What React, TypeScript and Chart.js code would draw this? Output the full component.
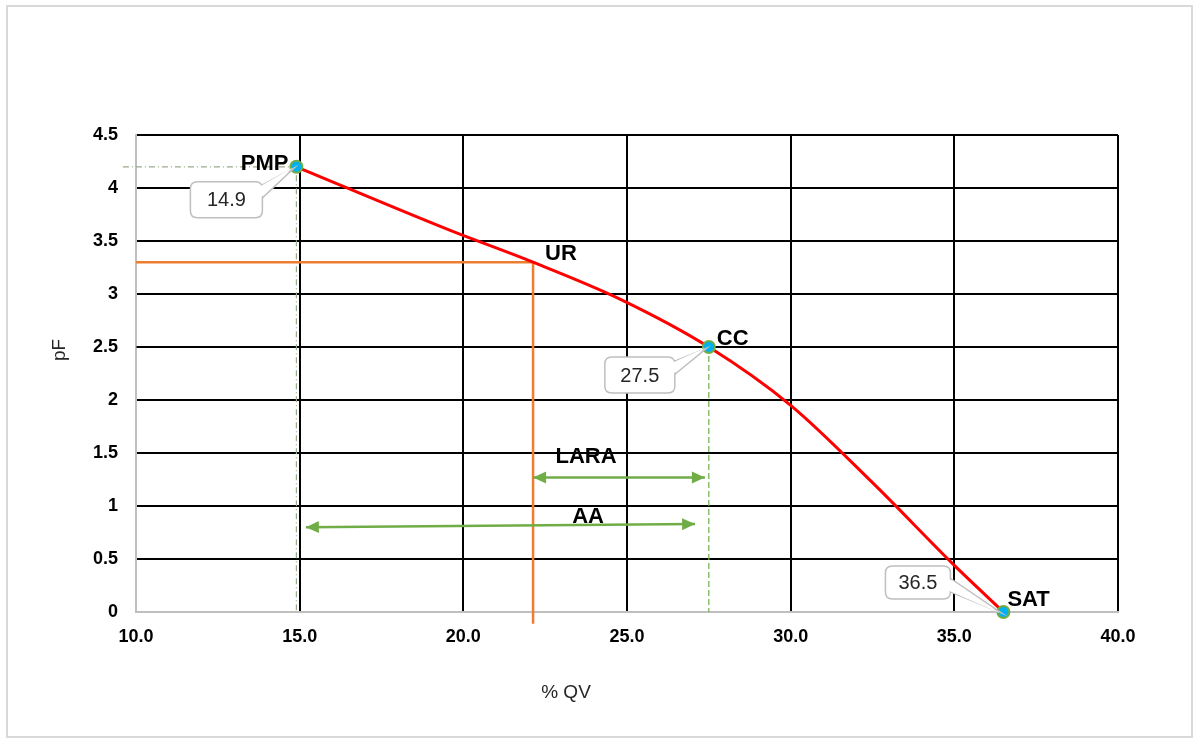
import React, { useEffect, useRef } from "react";
import { Chart, registerables } from "chart.js";

Chart.register(...registerables);

// ---- data ----
const curveX = [14.9, 19.6, 22.13, 24.8, 27.5, 30.0, 32.5, 35.0, 36.5];
const curveY = [4.2, 3.6, 3.3, 2.95, 2.5, 1.95, 1.22, 0.44, 0];
const keyNames = ["PMP", "CC", "SAT"];
const keyX = [14.9, 27.5, 36.5];
const keyY = [4.2, 2.5, 0];
const calloutText = ["14.9", "27.5", "36.5"];
const urX = 22.13;
const urY = 3.3;
const urBottom = -0.11;
const pmpGuideStartX = 9.6;
const laraX = [22.13, 27.38];
const laraY = [1.27, 1.27];
const aaX = [15.19, 27.08];
const aaY = [0.8, 0.83];
const textLabels = ["UR", "LARA", "AA"];
const textX = [22.13, 23.75, 23.81];
const textY = [3.3, 1.46, 0.9];
const xMin = 10, xMax = 40, xStep = 5;
const yMin = 0, yMax = 4.5, yStep = 0.5;
const xTitle = "% QV";
const yTitle = "pF";

const FONT = "'Liberation Sans', Arial, sans-serif";
const GREEN = "#70ad47";

function pts(xs: number[], ys: number[]) {
  return xs.map((v, i) => ({ x: v, y: ys[i] }));
}

function roundRect(ctx: CanvasRenderingContext2D, x: number, y: number, w: number, h: number, r: number) {
  ctx.beginPath();
  ctx.moveTo(x + r, y);
  ctx.lineTo(x + w - r, y);
  ctx.quadraticCurveTo(x + w, y, x + w, y + r);
  ctx.lineTo(x + w, y + h - r);
  ctx.quadraticCurveTo(x + w, y + h, x + w - r, y + h);
  ctx.lineTo(x + r, y + h);
  ctx.quadraticCurveTo(x, y + h, x, y + h - r);
  ctx.lineTo(x, y + r);
  ctx.quadraticCurveTo(x, y, x + r, y);
  ctx.closePath();
}

// pixel styles of callouts relative to their point: [dx, dy, w, h, wedgeTop, wedgeBottom]
const calloutStyle = [
  [-106, 15, 72, 36, 4, 18],
  [-104, 10, 70, 36, 5, 19],
  [-118, -46, 65, 33, 11, 25],
];
// label offsets relative to key points
const keyLabelStyle = [
  { dx: -8, dy: -3, align: "right" },
  { dx: 8, dy: -8, align: "left" },
  { dx: 4, dy: -12, align: "left" },
];

const annotPlugin = {
  id: "annot",
  beforeDraw(chart: any) {
    const { ctx } = chart;
    ctx.save();
    ctx.fillStyle = "#ffffff";
    ctx.fillRect(0, 0, chart.width, chart.height);
    ctx.strokeStyle = "#d9d9d9";
    ctx.lineWidth = 2;
    ctx.strokeRect(7, 6, 1185, 731);
    ctx.restore();
  },
  afterDatasetsDraw(chart: any) {
    const { ctx, scales } = chart;
    const x = scales.x, y = scales.y;
    ctx.save();

    // arrowheads
    const arrow = (x0: number, y0: number, x1: number, y1: number) => {
      const ang = Math.atan2(y1 - y0, x1 - x0);
      const L = 13, W = 6;
      ctx.beginPath();
      ctx.moveTo(x1, y1);
      ctx.lineTo(x1 - L * Math.cos(ang) + W * Math.sin(ang), y1 - L * Math.sin(ang) - W * Math.cos(ang));
      ctx.lineTo(x1 - L * Math.cos(ang) - W * Math.sin(ang), y1 - L * Math.sin(ang) + W * Math.cos(ang));
      ctx.closePath();
      ctx.fillStyle = GREEN;
      ctx.fill();
    };
    [[laraX, laraY], [aaX, aaY]].forEach(([xs, ys]) => {
      const ax = x.getPixelForValue(xs[0]), ay = y.getPixelForValue(ys[0]);
      const bx = x.getPixelForValue(xs[1]), by = y.getPixelForValue(ys[1]);
      arrow(bx, by, ax, ay);
      arrow(ax, ay, bx, by);
    });

    // callouts
    keyX.forEach((kx, i) => {
      const px = x.getPixelForValue(kx), py = y.getPixelForValue(keyY[i]);
      const [dx, dy, w, h, wt, wb] = calloutStyle[i];
      const bx = px + dx, by = py + dy;
      ctx.lineWidth = 1.5;
      ctx.strokeStyle = "#bfbfbf";
      ctx.fillStyle = "#ffffff";
      ctx.beginPath();
      ctx.moveTo(bx + w - 2, by + wt);
      ctx.lineTo(px - 2, py + 1);
      ctx.lineTo(bx + w - 2, by + wb);
      ctx.closePath();
      ctx.fill();
      ctx.stroke();
      roundRect(ctx, bx, by, w, h, 7);
      ctx.fill();
      ctx.stroke();
      ctx.beginPath();
      ctx.moveTo(bx + w - 3, by + wt + 1);
      ctx.lineTo(px - 4, py + 1);
      ctx.lineTo(bx + w - 3, by + wb - 1);
      ctx.closePath();
      ctx.fill();
      ctx.fillStyle = "#262626";
      ctx.font = `20px ${FONT}`;
      ctx.textAlign = "center";
      ctx.textBaseline = "middle";
      ctx.fillText(calloutText[i], bx + w / 2, by + h / 2 + 1);
    });

    // key labels
    ctx.fillStyle = "#000000";
    ctx.font = `bold 22px ${FONT}`;
    ctx.textBaseline = "middle";
    keyNames.forEach((n, i) => {
      const px = x.getPixelForValue(keyX[i]), py = y.getPixelForValue(keyY[i]);
      const s = keyLabelStyle[i];
      ctx.textAlign = s.align as CanvasTextAlign;
      ctx.fillText(n, px + s.dx, py + s.dy);
    });
    textLabels.forEach((t, i) => {
      const px = x.getPixelForValue(textX[i]), py = y.getPixelForValue(textY[i]);
      if (t === "UR") {
        ctx.textAlign = "left";
        ctx.fillText(t, px + 12, py - 8);
      } else {
        ctx.textAlign = "center";
        ctx.fillText(t, px, py);
      }
    });

    // axis titles
    ctx.font = `19px ${FONT}`;
    ctx.fillStyle = "#262626";
    ctx.textAlign = "center";
    ctx.textBaseline = "middle";
    ctx.fillText(xTitle, 566, 693);
    ctx.translate(60, 350);
    ctx.rotate(-Math.PI / 2);
    ctx.fillText(yTitle, 0, 0);
    ctx.restore();
  },
};

export default function App() {
  const ref = useRef<HTMLCanvasElement>(null);
  useEffect(() => {
    if (!ref.current) return;
    const chart = new Chart(ref.current, {
      type: "scatter",
      data: {
        datasets: [
          {
            data: pts(keyX, keyY),
            pointRadius: 6,
            pointBackgroundColor: "#00b0f0",
            pointBorderColor: GREEN,
            pointBorderWidth: 2,
            showLine: false,
            clip: false as any,
          },
          {
            data: pts(curveX, curveY),
            showLine: true,
            borderColor: "#ff0000",
            borderWidth: 3,
            pointRadius: 0,
            cubicInterpolationMode: "monotone",
            clip: false as any,
          },
          {
            data: pts(laraX, laraY),
            showLine: true,
            borderColor: GREEN,
            borderWidth: 2.5,
            pointRadius: 0,
          },
          {
            data: pts(aaX, aaY),
            showLine: true,
            borderColor: GREEN,
            borderWidth: 2.5,
            pointRadius: 0,
          },
          {
            data: [
              { x: xMin, y: urY },
              { x: urX, y: urY },
              { x: urX, y: urBottom },
            ],
            showLine: true,
            borderColor: "#ed7d31",
            borderWidth: 2.5,
            pointRadius: 0,
            clip: false as any,
          },
          {
            data: [
              { x: pmpGuideStartX, y: keyY[0] },
              { x: keyX[0], y: keyY[0] },
              { x: keyX[0], y: yMin },
            ],
            showLine: true,
            borderColor: "#9aab8c",
            borderWidth: 1.2,
            borderDash: [6, 3, 1, 3],
            pointRadius: 0,
            clip: false as any,
          },
          {
            data: [
              { x: xMin, y: keyY[1] },
              { x: keyX[1], y: keyY[1] },
            ],
            showLine: true,
            borderColor: "#000000",
            borderWidth: 1,
            borderDash: [4, 3],
            pointRadius: 0,
          },
          {
            data: [
              { x: keyX[1], y: keyY[1] },
              { x: keyX[1], y: yMin },
            ],
            showLine: true,
            borderColor: GREEN,
            borderWidth: 1.2,
            borderDash: [6, 3],
            pointRadius: 0,
          },
        ],
      },
      options: {
        animation: false,
        responsive: false,
        events: [],
        layout: { padding: { top: 135, right: 75, left: 0, bottom: 0 } },
        plugins: { legend: { display: false }, tooltip: { enabled: false } },
        scales: {
          x: {
            type: "linear",
            min: xMin,
            max: xMax,
            afterFit: (s: any) => {
              s.height = 126;
            },
            ticks: {
              stepSize: xStep,
              padding: 14,
              color: "#000000",
              font: { family: FONT, size: 18, weight: "bold" },
              callback: (v: any) => Number(v).toFixed(1),
            },
            grid: {
              drawTicks: false,
              lineWidth: 2,
              color: (c: any) => (c.tick && c.tick.value === xMin ? "rgba(0,0,0,0)" : "#000000"),
            },
            border: { display: true, color: "#bfbfbf", width: 2 },
          },
          y: {
            type: "linear",
            min: yMin,
            max: yMax,
            afterFit: (s: any) => {
              s.width = 136;
            },
            ticks: {
              stepSize: yStep,
              padding: 18,
              color: "#000000",
              font: { family: FONT, size: 18, weight: "bold" },
              callback: (v: any) => String(Number(v)),
            },
            grid: {
              drawTicks: false,
              lineWidth: 2,
              color: (c: any) => (c.tick && c.tick.value === yMin ? "rgba(0,0,0,0)" : "#000000"),
            },
            border: { display: true, color: "#bfbfbf", width: 2 },
          },
        },
      },
      plugins: [annotPlugin],
    } as any);
    return () => chart.destroy();
  }, []);
  return (
    <div style={{ position: "fixed", left: 0, top: 0, width: 1193, height: 738, background: "#fff" }}>
      <canvas ref={ref} width={1193} height={738} style={{ display: "block" }} />
    </div>
  );
}
